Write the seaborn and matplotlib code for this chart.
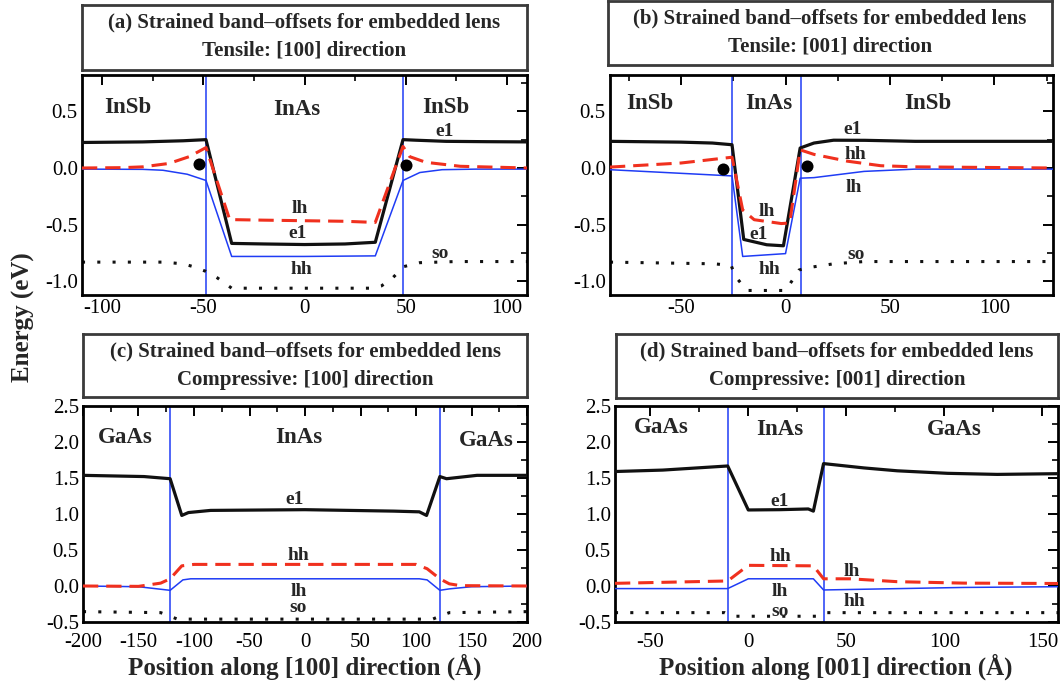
import matplotlib
matplotlib.use("Agg")
import matplotlib.pyplot as plt
import pandas as pd
import seaborn as sns
from matplotlib.ticker import MultipleLocator, FormatStrFormatter

# ---------------- data ----------------
# Panel (a) tensile, [100]
a_e1_x = [-110, -80, -60, -48.7, -36, -20, 0, 20, 35, 48.7, 55, 70, 90, 110]
a_e1_y = [0.225, 0.23, 0.24, 0.25, -0.665, -0.67, -0.675, -0.67, -0.655, 0.25, 0.245, 0.235, 0.232, 0.23]
a_red_x = [-110, -90, -80, -67, -57, -48.7, -37, -20, 0, 20, 35, 48.7, 52, 60, 77, 110]
a_red_y = [0.0, 0.003, 0.01, 0.04, 0.10, 0.18, -0.455, -0.46, -0.465, -0.47, -0.48, 0.19, 0.10, 0.05, 0.015, 0.0]
a_blue_x = [-110, -80, -70, -58, -48.7, -36, 0, 35, 48.7, 57, 68, 85, 110]
a_blue_y = [-0.01, -0.012, -0.02, -0.055, -0.11, -0.78, -0.78, -0.775, -0.11, -0.04, -0.015, -0.01, -0.01]
a_so_x = [-110, -70, -60, -55, -49, -43, -36, 0, 33, 38, 43, 49, 57, 75, 110]
a_so_y = [-0.83, -0.83, -0.845, -0.87, -0.91, -0.97, -1.06, -1.06, -1.06, -1.04, -0.98, -0.87, -0.835, -0.825, -0.825]
a_dot_x = [-52, 50.3]
a_dot_y = [0.038, 0.03]
a_interfaces = [-48.7, 48.7]

# Panel (b) tensile, [001]
b_e1_x = [-84, -50, -35, -25.6, -20, -9, -1, 7, 13.6, 23, 38, 62, 128]
b_e1_y = [0.235, 0.228, 0.22, 0.205, -0.63, -0.677, -0.686, 0.176, 0.22, 0.245, 0.244, 0.235, 0.235]
b_red_x = [-84, -50, -25.6, -20.5, -15, -2, 2, 7, 13.6, 29.6, 45.6, 62, 128]
b_red_y = [0.008, 0.044, 0.095, -0.37, -0.456, -0.49, -0.485, 0.16, 0.12, 0.06, 0.02, 0.01, 0.0]
b_blue_x = [-84, -25.6, -20.5, 0, 7, 13.6, 37.6, 62, 128]
b_blue_y = [-0.015, -0.07, -0.78, -0.755, -0.09, -0.085, -0.03, -0.01, -0.01]
b_so_x = [-84, -34, -26, -24, -21.6, -18.4, 0, 4, 6.4, 10.4, 23, 37.6, 128]
b_so_y = [-0.83, -0.845, -0.86, -0.957, -1.01, -1.08, -1.08, -0.97, -0.9, -0.88, -0.845, -0.825, -0.825]
b_dot_x = [-29.9, 10.4]
b_dot_y = [-0.01, 0.02]
b_interfaces = [-25.6, 7.5]

# Panel (c) compressive, [100]
c_e1_x = [-200, -145, -121.5, -111, -105, -85, 0, 80, 103, 109.5, 121.5, 127.5, 155, 200]
c_e1_y = [1.537, 1.52, 1.49, 0.98, 1.02, 1.05, 1.06, 1.04, 1.03, 0.98, 1.52, 1.49, 1.537, 1.537]
c_red_x = [-200, -150, -130, -121.5, -111, -100, 0, 100, 110, 121.5, 130, 140, 200]
c_red_y = [0.0, -0.005, 0.04, 0.1, 0.28, 0.3, 0.3, 0.3, 0.24, 0.1, 0.03, 0.005, 0.0]
c_blue_x = [-200, -150, -121.5, -110, -103, 0, 103, 110, 121.5, 130, 150, 200]
c_blue_y = [0.0, -0.01, -0.06, 0.085, 0.1, 0.1, 0.1, 0.085, -0.06, -0.04, -0.01, 0.0]
c_so_x = [-200, -130, -121.5, -115, 0, 115, 121.5, 130, 200]
c_so_y = [-0.356, -0.37, -0.42, -0.46, -0.46, -0.46, -0.42, -0.37, -0.356]
c_interfaces = [-121.5, 121.5]

# Panel (d) compressive, [001]
d_e1_x = [-68, -43.6, -10.5, 0, 16, 30.6, 33.2, 38.4, 59, 76, 101.6, 127, 158]
d_e1_y = [1.59, 1.61, 1.667, 1.056, 1.06, 1.07, 1.04, 1.70, 1.64, 1.6, 1.565, 1.55, 1.56]
d_red_x = [-68, -10.5, 0, 33.2, 38.4, 52, 76, 110, 158]
d_red_y = [0.037, 0.07, 0.287, 0.28, 0.1, 0.1, 0.06, 0.04, 0.035]
d_blue_x = [-68, -10.5, 0, 33.2, 38.4, 59, 110, 158]
d_blue_y = [-0.036, -0.036, 0.1, 0.1, -0.055, -0.045, -0.02, -0.01]
d_so_x = [-68, -12, -8, 36, 40, 158]
d_so_y = [-0.37, -0.37, -0.42, -0.42, -0.37, -0.37]
d_dot_x = []
d_dot_y = []
d_interfaces = [-10.5, 38.4]

# text
titles = [
    ("(a) Strained band\u2013offsets for embedded lens", "Tensile: [100] direction"),
    ("(b) Strained band\u2013offsets for embedded lens", "Tensile: [001] direction"),
    ("(c) Strained band\u2013offsets for embedded lens", "Compressive: [100] direction"),
    ("(d) Strained band\u2013offsets for embedded lens", "Compressive: [001] direction"),
]
xlabels = ["Position along [100] direction (\u00c5)", "Position along [001] direction (\u00c5)"]
ylabel = "Energy (eV)"

# annotations (text, x, y, kind)
a_notes = [("InSb", -87.5, 0.53, "mat"), ("InAs", -4, 0.515, "mat"), ("InSb", 70, 0.53, "mat"),
           ("e1", 69, 0.32, "band"), ("lh", -2.5, -0.353, "band"), ("e1", -3.3, -0.574, "band"),
           ("hh", -1.6, -0.897, "band"), ("so", 67, -0.75, "band")]
b_notes = [("InSb", -65, 0.57, "mat"), ("InAs", -8, 0.57, "mat"), ("InSb", 68, 0.57, "mat"),
           ("e1", 32, 0.338, "band"), ("hh", 33.6, 0.118, "band"), ("lh", 32.8, -0.176, "band"),
           ("lh", -8.8, -0.38, "band"), ("e1", -12.8, -0.59, "band"), ("hh", -7.9, -0.898, "band"),
           ("so", 33.6, -0.765, "band")]
c_notes = [("GaAs", -162, 2.06, "mat"), ("InAs", -6, 2.06, "mat"), ("GaAs", 163, 2.02, "mat"),
           ("e1", -9, 1.20, "band"), ("hh", -6, 0.426, "band"), ("lh", -6, -0.07, "band"),
           ("so", -6, -0.30, "band")]
d_notes = [("GaAs", -44.5, 2.2, "mat"), ("InAs", 16.2, 2.18, "mat"), ("GaAs", 105, 2.18, "mat"),
           ("e1", 16.2, 1.18, "band"), ("hh", 16.2, 0.41, "band"), ("lh", 16.2, -0.07, "band"),
           ("so", 16.2, -0.35, "band"), ("lh", 53, 0.2, "band"), ("hh", 54, -0.22, "band")]

# ---------------- style ----------------
sns.set_theme(style="white")
plt.rcParams["font.family"] = ["Liberation Serif", "DejaVu Serif"]
plt.rcParams["axes.unicode_minus"] = False

W, H = 1061, 684
fig = plt.figure(figsize=(W / 100, H / 100), dpi=100)
fig.patch.set_facecolor("white")

def frac(l, t, r, b):
    return [l / W, 1 - b / H, (r - l) / W, (b - t) / H]

BLACK = "#111111"
RED = "#f0301e"
BLUE = "#1f3cf5"

panels = [
    dict(box=(82, 75, 527, 295), tbox=(82, 5, 527, 70), tl=(22.7, 50.7),
         e1=(a_e1_x, a_e1_y), red=(a_red_x, a_red_y), blue=(a_blue_x, a_blue_y), so=(a_so_x, a_so_y),
         dots=(a_dot_x, a_dot_y), inter=a_interfaces, xlim=(-110, 110), ylim=(-1.12, 0.82),
         xmaj=50, ymaj=0.5, notes=a_notes, xpad=3),
    dict(box=(610, 75, 1053, 295), tbox=(608, 1, 1052, 65), tl=(18.3, 46.7),
         e1=(b_e1_x, b_e1_y), red=(b_red_x, b_red_y), blue=(b_blue_x, b_blue_y), so=(b_so_x, b_so_y),
         dots=(b_dot_x, b_dot_y), inter=b_interfaces, xlim=(-84, 128), ylim=(-1.12, 0.82),
         xmaj=50, ymaj=0.5, notes=b_notes, xpad=3),
    dict(box=(83, 406, 527, 622), tbox=(83, 334, 527, 397), tl=(351.7, 380),
         e1=(c_e1_x, c_e1_y), red=(c_red_x, c_red_y), blue=(c_blue_x, c_blue_y), so=(c_so_x, c_so_y),
         dots=([], []), inter=c_interfaces, xlim=(-200, 200), ylim=(-0.5, 2.5),
         xmaj=50, ymaj=0.5, notes=c_notes, xpad=8),
    dict(box=(615, 406, 1058, 622), tbox=(616, 334, 1058, 398), tl=(351.7, 380),
         e1=(d_e1_x, d_e1_y), red=(d_red_x, d_red_y), blue=(d_blue_x, d_blue_y), so=(d_so_x, d_so_y),
         dots=(d_dot_x, d_dot_y), inter=d_interfaces, xlim=(-68, 158), ylim=(-0.5, 2.5),
         xmaj=50, ymaj=0.5, notes=d_notes, xpad=8),
]

for p, (t1, t2) in zip(panels, titles):
    # title box
    tb = fig.add_axes(frac(*p["tbox"]))
    tb.set_xticks([]); tb.set_yticks([])
    for s in tb.spines.values():
        s.set_linewidth(2.0); s.set_color("#3a3a3a")
    cx = (p["tbox"][0] + p["tbox"][2]) / 2 / W
    fig.text(cx, 1 - p["tl"][0] / H, t1, ha="center", va="center", fontsize=15, fontweight="bold")
    fig.text(cx, 1 - p["tl"][1] / H, t2, ha="center", va="center", fontsize=15, fontweight="bold")

    ax = fig.add_axes(frac(*p["box"]))
    for xi in p["inter"]:
        ax.axvline(xi, color=BLUE, lw=1.1, zorder=1)
    so = pd.DataFrame({"x": p["so"][0], "y": p["so"][1]})
    sns.lineplot(data=so, x="x", y="y", ax=ax, color=BLACK, lw=2.2, linestyle=(0, (1, 4)),
                 estimator=None, sort=False, zorder=2)
    bl = pd.DataFrame({"x": p["blue"][0], "y": p["blue"][1]})
    sns.lineplot(data=bl, x="x", y="y", ax=ax, color=BLUE, lw=1.1, estimator=None, sort=False, zorder=3)
    e1 = pd.DataFrame({"x": p["e1"][0], "y": p["e1"][1]})
    sns.lineplot(data=e1, x="x", y="y", ax=ax, color=BLACK, lw=2.3, estimator=None, sort=False, zorder=4)
    rd = pd.DataFrame({"x": p["red"][0], "y": p["red"][1]})
    sns.lineplot(data=rd, x="x", y="y", ax=ax, color=RED, lw=2.2, linestyle=(0, (5, 2.6)),
                 estimator=None, sort=False, zorder=5)
    if len(p["dots"][0]):
        dd = pd.DataFrame({"x": p["dots"][0], "y": p["dots"][1]})
        sns.scatterplot(data=dd, x="x", y="y", ax=ax, color="black", s=75, edgecolor="black",
                        linewidth=0, zorder=6)
    for txt, x, y, kind in p["notes"]:
        ax.text(x, y, txt, ha="center", va="center", fontweight="bold",
                fontsize=16.5 if kind == "mat" else 14, zorder=7)
    ax.set_xlim(*p["xlim"]); ax.set_ylim(*p["ylim"])
    ax.set_xlabel(""); ax.set_ylabel("")
    ax.xaxis.set_major_locator(MultipleLocator(p["xmaj"]))
    ax.xaxis.set_minor_locator(MultipleLocator(p["xmaj"] / 2))
    ax.yaxis.set_major_locator(MultipleLocator(p["ymaj"]))
    ax.yaxis.set_minor_locator(MultipleLocator(p["ymaj"] / 2))
    ax.xaxis.set_major_formatter(FormatStrFormatter("%d"))
    ax.yaxis.set_major_formatter(FormatStrFormatter("%.1f"))
    ax.tick_params(which="both", direction="in", top=True, right=True, colors="black")
    ax.tick_params(which="major", length=7, width=1.4, labelsize=15)
    ax.tick_params(axis="y", which="major", pad=3)
    ax.tick_params(axis="x", which="major", pad=p["xpad"])
    ax.tick_params(which="minor", length=4, width=1.2)
    for s in ax.spines.values():
        s.set_linewidth(2.0); s.set_color("black")
    ax.set_facecolor("white")

fig.text(23 / W, 1 - 317 / H, ylabel, rotation=90, ha="center", va="center",
         fontsize=18, fontweight="bold")
fig.text(305 / W, 1 - 667 / H, xlabels[0], ha="center", va="center", fontsize=18, fontweight="bold")
fig.text(836 / W, 1 - 667 / H, xlabels[1], ha="center", va="center", fontsize=18, fontweight="bold")

fig.savefig("out.png", dpi=100, facecolor="white")
